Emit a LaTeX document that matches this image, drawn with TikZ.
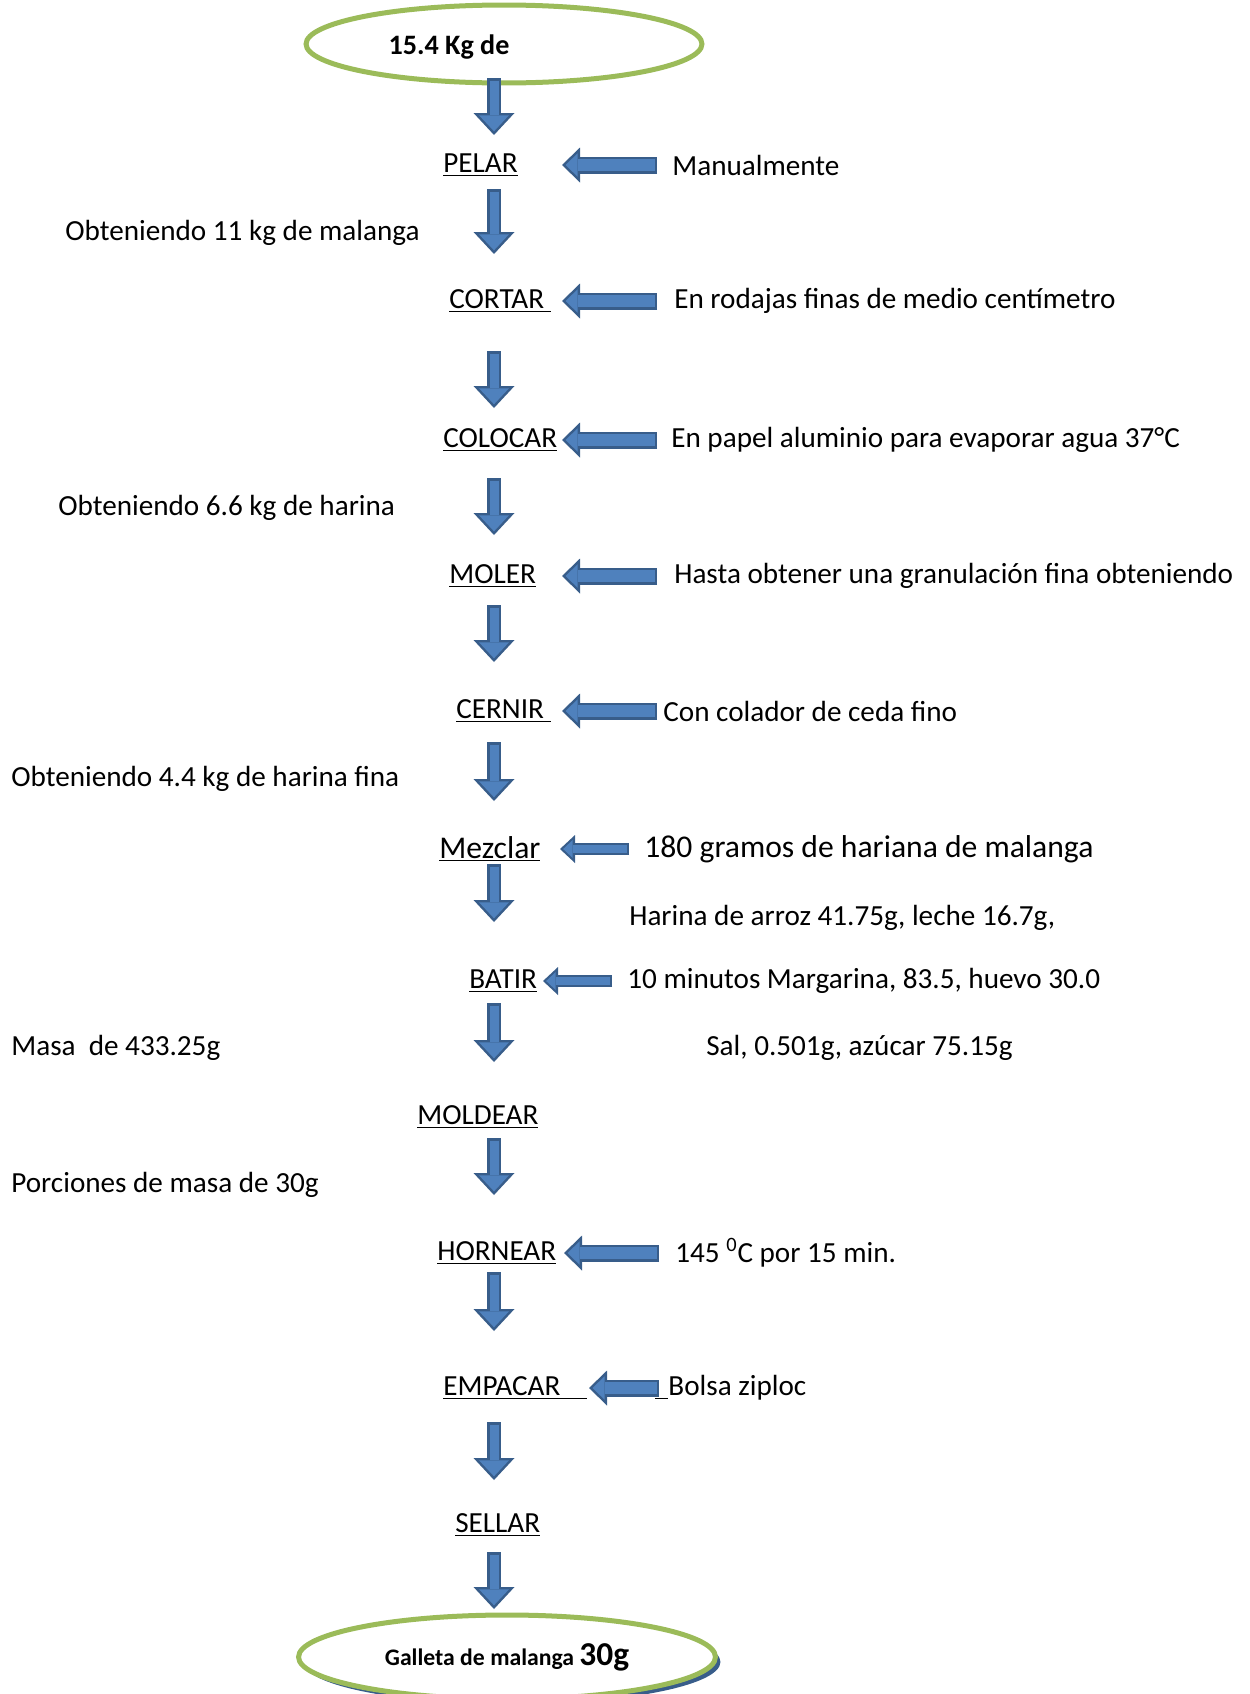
\documentclass[tikz,border=0pt]{standalone}
\usepackage{fontspec}
\setmainfont{Carlito}
\usetikzlibrary{arrows.meta,shapes.geometric}
\definecolor{ArrowFill}{HTML}{4F81BD}
\definecolor{ArrowEdge}{HTML}{385D8A}
\definecolor{LeafGreen}{HTML}{9BBB59}

\begin{document}
\begin{tikzpicture}[
    x=0.02cm, y=-0.02cm,
    every node/.style={inner sep=0pt, font=\fontsize{16.6}{20}\selectfont},
    stage/.style={anchor=west},
    note/.style={anchor=west},
    ends/.style={ellipse, draw=LeafGreen, line width=0.1cm, fill=white},
    flow/.style 2 args={draw=ArrowFill, line width=0.18cm,
      shorten <=#1*0.02cm+0.05cm, shorten >=#2*0.02cm+0.074cm,
      -{Triangle[length=0.32cm, width=0.6cm, line width=0pt]},
      preaction={draw=ArrowEdge, line width=0.28cm,
        shorten <=#1*0.02cm, shorten >=#2*0.02cm,
        -{Triangle[length=0.44cm, width=0.82cm, line width=0pt]}}},
    feed/.style 2 args={draw=ArrowFill, line width=0.24cm,
      shorten <=#1*0.02cm+0.05cm, shorten >=#2*0.02cm+0.072cm,
      -{Triangle[length=0.24cm, width=0.47cm, line width=0pt]},
      preaction={draw=ArrowEdge, line width=0.34cm,
        shorten <=#1*0.02cm, shorten >=#2*0.02cm,
        -{Triangle[length=0.36cm, width=0.7cm, line width=0pt]}}},
    feed small/.style 2 args={draw=ArrowFill, line width=0.15cm,
      shorten <=#1*0.02cm+0.045cm, shorten >=#2*0.02cm+0.064cm,
      -{Triangle[length=0.19cm, width=0.36cm, line width=0pt]},
      preaction={draw=ArrowEdge, line width=0.24cm,
        shorten <=#1*0.02cm, shorten >=#2*0.02cm,
        -{Triangle[length=0.3cm, width=0.56cm, line width=0pt]}}}
  ]
  \useasboundingbox (0,0) rectangle (1249,1694);
  \coordinate (spine) at (494,0);

  % start and end of the process
  \node[ends, minimum width=7.92cm, minimum height=1.56cm] (raw) at (504,44) {};
  \node[font=\fontsize{16}{19}\selectfont\bfseries] (rawlabel) at (449,47) {15.4 Kg de};
  \node[ends, minimum width=8.34cm, minimum height=1.68cm,
    preaction={fill=ArrowEdge, transform canvas={xshift=0.1cm, yshift=-0.1cm}},
    font=\fontsize{13.5}{16}\selectfont\bfseries] (cookie) at (507,1657)
    {Galleta de malanga {\fontsize{19}{22}\selectfont 30g}};

  % stages
  \node[stage] (pelar) at (443,165) {\underline{PELAR}};
  \node[stage] (cortar) at (449,301) {\underline{CORTAR\ }};
  \node[stage] (colocar) at (443,440) {\underline{COLOCAR}};
  \node[stage] (moler) at (449,576) {\underline{MOLER}};
  \node[stage] (cernir) at (456,711) {\underline{CERNIR\ }};
  \node[stage, font=\fontsize{18}{22}\selectfont] (mezclar) at (439,849) {\underline{Mezclar}};
  \node[stage] (batir) at (469,981) {\underline{BATIR}};
  \node[stage] (moldear) at (417,1117) {\underline{MOLDEAR}};
  \node[stage] (hornear) at (437,1253) {\underline{HORNEAR}};
  \node[stage] (empacar) at (443,1388) {\underline{EMPACAR\hspace{0.9em}}};
  \node[stage] (sellar) at (455,1525) {\underline{SELLAR}};

  % inputs on the right
  \node[note] (manual) at (672,165) {Manualmente};
  \node[note] (rodajas) at (674,301) {En rodajas finas de medio centímetro};
  \node[note] (papel) at (671,440) {En papel aluminio para evaporar agua 37°C};
  \node[note] (granos) at (674,576) {Hasta obtener una granulación fina obteniendo};
  \node[note] (colador) at (663,711) {Con colador de ceda fino};
  \node[note, font=\fontsize{18}{22}\selectfont] (harina) at (644,849) {180 gramos de hariana de malanga};
  \node[note] (arroz) at (629,918) {Harina de arroz 41.75g, leche 16.7g,};
  \node[note] (minutos) at (627,981) {10 minutos Margarina, 83.5, huevo 30.0};
  \node[note] (sal) at (706,1048) {Sal, 0.501g, azúcar 75.15g};
  \node[note] (calor) at (675,1253) {145 \textsuperscript{0}C por 15 min.};
  \node[note] (bolsa) at (655,1388) {\underline{\hspace{0.45em}}Bolsa ziploc};

  % yields on the left
  \node[note] (peso1) at (65,233) {Obteniendo 11 kg de malanga};
  \node[note] (peso2) at (58,508) {Obteniendo 6.6 kg de harina};
  \node[note] (peso3) at (11,779) {Obteniendo 4.4 kg de harina fina};
  \node[note] (masa) at (11,1048) {Masa\ \ de 433.25g};
  \node[note] (porcion) at (11,1185) {Porciones de masa de 30g};

  % main flow
  \draw[flow={34}{30}] (raw -| spine) -- (pelar.west -| spine);
  \draw[flow={24}{47}] (pelar.west -| spine) -- (cortar.west -| spine);
  \draw[flow={50}{32}] (cortar.west -| spine) -- (colocar.west -| spine);
  \draw[flow={38}{41}] (colocar.west -| spine) -- (moler.west -| spine);
  \draw[flow={29}{49}] (moler.west -| spine) -- (cernir.west -| spine);
  \draw[flow={31}{48}] (cernir.west -| spine) -- (mezclar.west -| spine);
  \draw[flow={15}{59}] (mezclar.west -| spine) -- (batir.west -| spine);
  \draw[flow={22}{55}] (batir.west -| spine) -- (moldear.west -| spine);
  \draw[flow={21}{58}] (moldear.west -| spine) -- (hornear.west -| spine);
  \draw[flow={19}{57}] (hornear.west -| spine) -- (empacar.west -| spine);
  \draw[flow={34}{45}] (empacar.west -| spine) -- (sellar.west -| spine);
  \draw[flow={27}{48}] (sellar.west -| spine) -- (cookie -| spine);

  % side inputs
  \draw[feed={15}{119}] (manual.west) -- (manual.west -| pelar.west);
  \draw[feed={17}{113}] (rodajas.west) -- (rodajas.west -| cortar.west);
  \draw[feed={14}{119}] (papel.west) -- (papel.west -| colocar.west);
  \draw[feed={17}{113}] (granos.west) -- (granos.west -| moler.west);
  \draw[feed={6}{106}] (colador.west) -- (colador.west -| cernir.west);
  \draw[feed small={15}{121}] (harina.west) -- (harina.west -| mezclar.west);
  \draw[feed small={15}{74}] (minutos.west) -- (minutos.west -| batir.west);
  \draw[feed={16}{127}] (calor.west) -- (calor.west -| hornear.west);
  \draw[feed={-4}{146}] (bolsa.west) -- (bolsa.west -| empacar.west);
\end{tikzpicture}
\end{document}
